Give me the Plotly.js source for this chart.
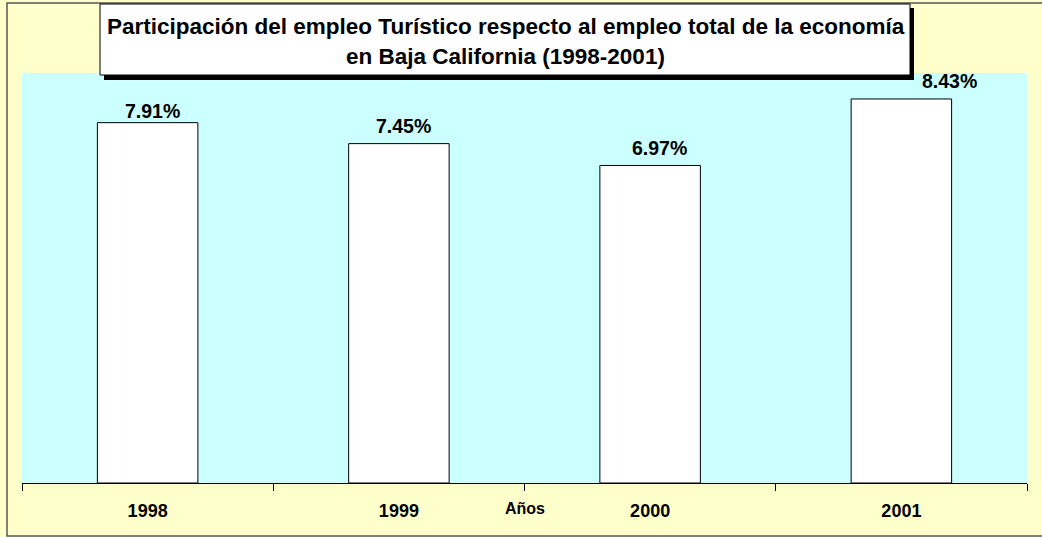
<!DOCTYPE html>
<html><head><meta charset="utf-8">
<script src="https://cdn.plot.ly/plotly-3.0.1.min.js"></script>
<style>html,body{margin:0;padding:0;background:#FFFFCC;}</style>
</head><body>
<div id="chart" style="width:1042px;height:537px;"></div>
<script>
const years = ['1998', '1999', '2000', '2001'];
const shares = [7.91, 7.45, 6.97, 8.43];
const titleLines = ['Participación del empleo Turístico respecto al empleo total de la economía', 'en Baja California (1998-2001)'];
const xTitle = 'Años';

const W = 1042, H = 537, L = 22, R = 15, T = 73, B = 54;
const pw = W - L - R, ph = H - T - B;
const px = x => (x - L) / pw;
const py = y => (H - B - y) / ph;

// label placement offsets (pixels), kept apart from the data
const labelXShift = [5, 5, 9, 48];
const labelYShift = [12, 18, 17, 18];

const trace = {
  type: 'bar', x: years, y: shares,
  marker: {color: '#FFFFFF', line: {color: '#000000', width: 1}},
  hoverinfo: 'skip'
};

// on a category axis, annotation x is the category's index
const labelAnnotations = years.map((yr, i) => ({
  xref: 'x', yref: 'y', x: i, y: shares[i],
  text: shares[i].toFixed(2) + '%', showarrow: false,
  xanchor: 'center', yanchor: 'middle',
  xshift: labelXShift[i], yshift: labelYShift[i],
  font: {size: 19.5, weight: 'bold', color: '#000'}
}));

const layout = {
  width: W, height: H,
  margin: {l: L, r: R, t: T, b: B, pad: 0},
  paper_bgcolor: '#FFFFCC', plot_bgcolor: '#CCFFFF',
  bargap: 0.6, showlegend: false,
  font: {family: 'Liberation Sans, Arial, sans-serif', color: '#000'},
  xaxis: {
    type: 'category', range: [-0.5, years.length - 0.5], autorange: false,
    showline: true, linecolor: '#000', linewidth: 1,
    ticks: 'outside', tickson: 'boundaries', ticklen: 7, tickcolor: '#000',
    showgrid: false, zeroline: false,
    tickfont: {size: 18, weight: 'bold', color: '#000'}, ticklabelstandoff: 11
  },
  yaxis: {range: [0, 9], visible: false, showgrid: false, zeroline: false},
  shapes: [
    {type: 'rect', xref: 'paper', yref: 'paper', x0: px(7), x1: px(1055), y0: py(536), y1: py(3), line: {color: '#555', width: 1.5}, fillcolor: 'rgba(0,0,0,0)', layer: 'above'},
    {type: 'rect', xref: 'paper', yref: 'paper', x0: px(104), x1: px(914), y0: py(80), y1: py(8), line: {width: 0}, fillcolor: '#000', layer: 'above'},
    {type: 'rect', xref: 'paper', yref: 'paper', x0: px(100), x1: px(910), y0: py(75), y1: py(4), line: {color: '#000', width: 1}, fillcolor: '#FFFFFF', layer: 'above'}
  ],
  annotations: [
    {xref: 'paper', yref: 'paper', x: px(505.5), y: py(27), text: titleLines[0], showarrow: false, xanchor: 'center', yanchor: 'middle', font: {size: 22.5, weight: 'bold', color: '#000'}},
    {xref: 'paper', yref: 'paper', x: px(505), y: py(57), text: titleLines[1], showarrow: false, xanchor: 'center', yanchor: 'middle', font: {size: 22.5, weight: 'bold', color: '#000'}},
    {xref: 'paper', yref: 'paper', x: px(525), y: py(508), text: xTitle, showarrow: false, xanchor: 'center', yanchor: 'middle', font: {size: 16, weight: 'bold', color: '#000'}}
  ].concat(labelAnnotations)
};

Plotly.newPlot('chart', [trace], layout, {staticPlot: true});
</script>
</body></html>
